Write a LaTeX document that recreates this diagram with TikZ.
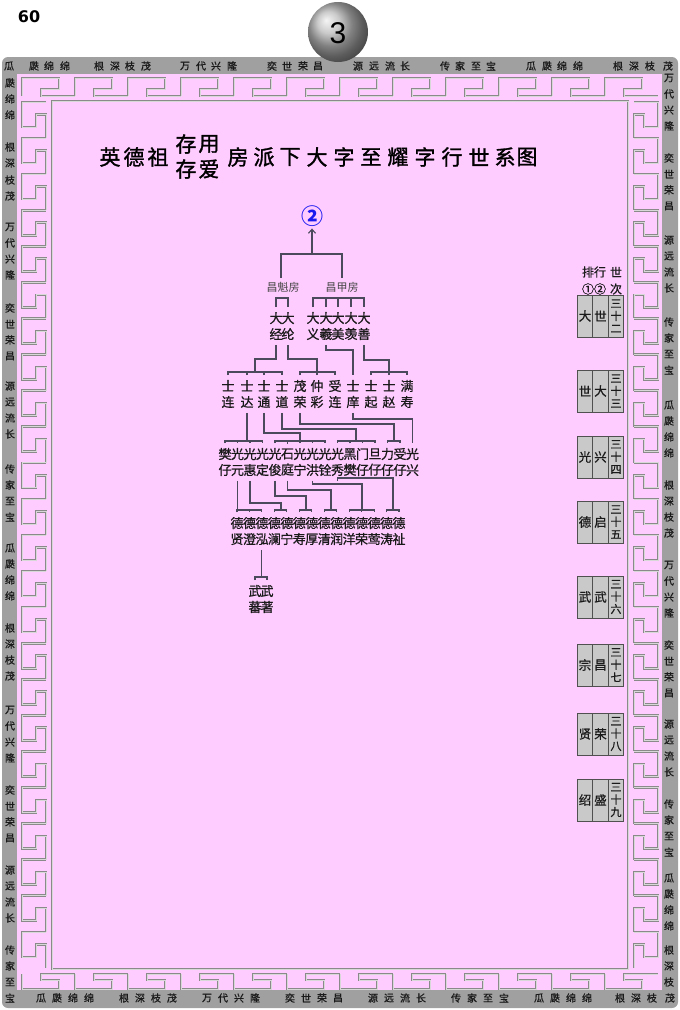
\documentclass[tikz,border=0pt]{standalone}
\usepackage{fontspec}
\newfontfamily\cjk{Noto Sans CJK SC}
\newfontfamily\cjkb[FakeBold=0.8]{Noto Sans CJK SC}
\newfontfamily\cjkt[FakeBold=1.4]{Noto Sans CJK SC}
\newfontfamily\numfont{DejaVu Sans}
\newfontfamily\ballfont{Liberation Sans}
\usetikzlibrary{arrows.meta}
\definecolor{pinkbg}{HTML}{FFCCFF}
\definecolor{bandgray}{HTML}{A0A0A0}
\definecolor{fretline}{HTML}{8A8A8A}
\definecolor{fretcore}{HTML}{D8D8D8}
\definecolor{lnc}{HTML}{4A4A5C}
\definecolor{txt}{HTML}{1A1A1A}
\definecolor{cellgray}{HTML}{C9C9C9}
\definecolor{celledge}{HTML}{505050}
\definecolor{circblue}{HTML}{1A1AF0}
\definecolor{bordtxt}{HTML}{1A1A1A}
\tikzset{
  fret/.style={draw=fretline, double=fretcore, double distance=0.7pt, line width=0.95pt},
  nm/.style={font=\cjkb\fontsize{13}{16}\selectfont, text=txt, inner xsep=0pt, inner ysep=0pt, outer ysep=5pt, align=center},
  conn/.style={draw=lnc, line width=1.1pt},
  fang/.style={font=\cjk\fontsize{11}{13}\selectfont, text=txt!80, inner sep=0pt, outer ysep=4pt},
  ttl/.style={font=\cjkt\fontsize{21}{21}\selectfont, text=black, inner sep=0pt},
  bt/.style={font=\cjkb\fontsize{10}{10}\selectfont, text=bordtxt, inner sep=0pt},
  cell/.style={draw=celledge, fill=cellgray, line width=0.8pt, minimum width=15.5pt, minimum height=42pt, inner sep=0pt, font=\cjkb\fontsize{12.5}{14}\selectfont, text=txt, align=center},
  cellc/.style={cell, font=\cjkb\fontsize{11}{12.5}\selectfont},
  hdr/.style={font=\cjkb\fontsize{12}{12}\selectfont, text=txt, inner sep=0pt},
}
\newcommand\brkt[3]{\draw[conn] (#1.north) -- (#1.north |- #3) -- (#2.north |- #3) -- (#2.north);}
\newcommand\legs[2]{\foreach \q in {#2} {\draw[conn] (\q.north) -- (\q.north |- #1);}}
\begin{document}
\begin{tikzpicture}[x=1pt,y=-1pt]
\useasboundingbox (0,0) rectangle (680,1010);
\fill[white] (0,0) rectangle (680,1010);
% frame
\fill[bandgray, rounded corners=6pt] (2,57) rectangle (678,1008);
\fill[pinkbg] (17,74) rectangle (662,990);
% badge and page number
\shade[ball color=gray!55] (338,32) circle (30);
\node[font=\ballfont\fontsize{30}{30}\selectfont] (badge) at (338,33) {3};
\node[font=\numfont\bfseries\fontsize{16}{16}\selectfont] (pageno) at (29,17) {60};
% meander bands
\foreach \i in {0,...,11} \draw[fret] ({22+53*\i},96) -- ++(0,-18) -- ++(37,0) -- ++(0,11) -- ++(-18,0) -- ++(0,7) -- ++(34,0);
\foreach \i in {0,...,11} \draw[fret] ({22+53*\i},974) -- ++(0,15) -- ++(37,0) -- ++(0,-9) -- ++(-18,0) -- ++(0,-6) -- ++(34,0);
\foreach \i in {0,...,23} \draw[fret] (46,{102+36.08*\i}) -- ++(-24,0) -- ++(0,25) -- ++(14,0) -- ++(0,-12.6) -- ++(10,0) -- ++(0,23.68);
\foreach \i in {0,...,23} \draw[fret] (634,{102+36.08*\i}) -- ++(24,0) -- ++(0,25) -- ++(-14,0) -- ++(0,-12.6) -- ++(-10,0) -- ++(0,23.68);
\draw[fret] (52,101) rectangle (628,969);
% border texts
\foreach \x/\c in {9/瓜,34/瓞,49/绵,65/绵,99/根,115/深,130/枝,146/茂,185/万,201/代,216/兴,232/隆,272/奕,287/世,303/荣,318/昌,358/源,374/远,390/流,405/长,445/传,460/家,476/至,491/宝,531/瓜,547/瓞,562/绵,578/绵,618/根,634/深,650/枝,668/茂}
  \node[bt] at (\x,66) {\c};
\foreach \y/\c in {83/瓞,99/绵,115/绵,147/根,163/深,180/枝,196/茂,227/万,243/代,259/兴,275/隆,308/奕,324/世,340/荣,356/昌,386/源,402/远,418/流,434/长,469/传,485/家,501/至,517/宝,548/瓜,564/瓞,580/绵,596/绵,628/根,644/深,660/枝,676/茂,710/万,726/代,742/兴,758/隆,790/奕,806/世,822/荣,838/昌,870/源,886/远,902/流,918/长,950/传,966/家,982/至,998/宝}
  \node[bt] at (10,\y) {\c};
\foreach \x/\c in {41/瓜,57/瓞,73/绵,89/绵,124/根,140/深,156/枝,172/茂,207/万,223/代,239/兴,255/隆,290/奕,306/世,322/荣,338/昌,373/源,389/远,405/流,421/长,456/传,472/家,488/至,504/宝,539/瓜,555/瓞,571/绵,587/绵,620/根,636/深,652/枝,670/茂}
  \node[bt] at (\x,998) {\c};
\foreach \y/\c in {78/万,94/代,110/兴,126/隆,158/奕,174/世,190/荣,206/昌,240/源,256/远,272/流,288/长,322/传,338/家,354/至,370/宝,405/瓜,421/瓞,437/绵,453/绵,485/根,501/深,517/枝,533/茂,565/万,581/代,597/兴,613/隆,645/奕,661/世,677/荣,693/昌,724/源,740/远,756/流,772/长,804/传,820/家,836/至,852/宝,878/瓜,894/瓞,910/绵,926/绵,950/根,966/深,982/枝}
  \node[bt] at (669,\y) {\c};
% title
\foreach \x/\c in {110/英,134/德,158/祖,238/房,264/派,290/下,317/大,344/字,371/至,398/耀,425/字,452/行,479/世,505/系,527/图}
  \node[ttl] at (\x,157) {\c};
\node[ttl] (t1) at (186,144) {存};
\node[ttl] (t2) at (209,144) {用};
\node[ttl] (t3) at (186,169) {存};
\node[ttl] (t4) at (209,169) {爱};
% right column
\node[hdr] (h1) at (594,272) {排行};
\node[hdr] (h2) at (616,272) {世};
\node[hdr] (h3) at (594,289) {①②};
\node[hdr] (h4) at (616,289) {次};
\foreach \yc/\a/\b/\c [count=\k] in {316/大/世/二,391/世/大/三,457/光/兴/四,522/德/启/五,597/武/武/六,665/宗/昌/七,734/贤/荣/八,800/绍/盛/九}{
  \node[cell] (ca\k) at (585,\yc) {\a};
  \node[cell] (cb\k) at (600.5,\yc) {\b};
  \node[cellc] (cc\k) at (616,\yc) {三\\十\\\c};
}
% tree
\node[font=\cjk\bfseries\fontsize{22}{22}\selectfont, text=circblue, inner sep=0pt, outer sep=2pt] (root) at (312,216) {②};
\coordinate (hub) at (312,254);
\coordinate (hl) at (281,254);
\coordinate (hr) at (342,254);
\node[fang] (f1) at (283,287) {昌魁房};
\node[fang] (f2) at (342,287) {昌甲房};
\draw[conn, -{Straight Barb[length=4pt,width=7pt]}] (hub) -- (root.south);
\draw[conn] (hl |- f1.north) -- (hl) -- (hr) -- (f2.north);
\coordinate (y2) at (0,298);
\coordinate (y3) at (0,372);
\coordinate (y4) at (0,441);
\coordinate (y5) at (0,510);
\coordinate (y6) at (0,577);
% level 2
\node[nm] (a1) at (276,326) {大\\经};
\node[nm] (a2) at (288,326) {大\\纶};
\foreach \p/\x [count=\i] in {义/313,羲/326,美/338,羡/351,善/364}
  \node[nm] (b\i) at (\x,326) {大\\\p};
\brkt{a1}{a2}{y2}
\brkt{b1}{b5}{y2}
\legs{y2}{b2,b3,b4}
% level 3
\foreach \p/\q/\x [count=\i] in {士/连/228,士/达/247,士/通/264,士/道/282,茂/荣/300,仲/彩/317,受/连/335,士/庠/353,士/起/371,士/赵/389,满/寿/407}
  \node[nm] (c\i) at (\x,394) {\p\\\q};
\brkt{c1}{c4}{y3}
\legs{y3}{c2,c3}
\brkt{c5}{c7}{y3}
\legs{y3}{c6}
\brkt{c9}{c11}{y3}
\legs{y3}{c10}
\coordinate (k31) at (255,359); \coordinate (s31) at (255,372);
\coordinate (k32) at (317,359); \coordinate (s32) at (317,372);
\coordinate (k33) at (353,350);
\coordinate (k34) at (389,360); \coordinate (s34) at (389,372);
\draw[conn] (a1.south) |- (k31) -- (s31);
\draw[conn] (a2.south) |- (k32) -- (s32);
\draw[conn] (b2.south) |- (k33) -- (c8.north);
\draw[conn] (b5.south) |- (k34) -- (s34);
% level 4
\foreach \p/\q [count=\i] in {樊/仔,光/元,光/惠,光/定,光/俊,石/庭,光/宁,光/洪,光/铨,光/秀,黑/樊,门/仔,旦/仔,力/仔,受/仔,光/兴}
  \node[nm] (d\i) at ({212.5+12.5*\i},462) {\p\\\q};
\brkt{d1}{d4}{y4}
\legs{y4}{d2,d3}
\brkt{d5}{d9}{y4}
\legs{y4}{d6,d7,d8}
\brkt{d10}{d13}{y4}
\legs{y4}{d11,d12}
\brkt{d14}{d15}{y4}
\coordinate (s41) at (247,441);
\coordinate (k42) at (264,433); \coordinate (s42) at (300,441);
\coordinate (k43) at (282,429); \coordinate (s43) at (356,441);
\coordinate (k44) at (300,424); \coordinate (s44) at (394,441);
\coordinate (k45) at (412.5,419);
\draw[conn] (c2.south) -- (s41);
\draw[conn] (c3.south) |- (k42) -| (s42);
\draw[conn] (c4.south) |- (k43) -| (s43);
\draw[conn] (c5.south) |- (k44) -| (s44);
\draw[conn] (c8.south) |- (k45) -- (d16.north);
% level 5
\foreach \q [count=\i] in {贤,澄,泓,澜,宁,寿,厚,清,润,洋,荣,莺,涛,祉}
  \node[nm] (e\i) at ({224.54+12.46*\i},531) {德\\\q};
\brkt{e1}{e3}{y5}
\legs{y5}{e2}
\brkt{e4}{e5}{y5}
\brkt{e6}{e7}{y5}
\brkt{e8}{e9}{y5}
\brkt{e10}{e12}{y5}
\legs{y5}{e11}
\brkt{e13}{e14}{y5}
\coordinate (k52) at (250,503); \coordinate (s52) at (281,510);
\coordinate (k53) at (275,496); \coordinate (s53) at (306,510);
\coordinate (k54) at (287.5,490); \coordinate (s54) at (331,510);
\coordinate (k55) at (312.5,484); \coordinate (s55) at (362,510);
\coordinate (k56) at (337.5,478); \coordinate (s56) at (393,510);
\draw[conn] (d2.south) -- (d2.south |- y5);
\draw[conn] (d3.south) |- (k52) -| (s52);
\draw[conn] (d5.south) |- (k53) -| (s53);
\draw[conn] (d6.south) |- (k54) -| (s54);
\draw[conn] (d8.south) |- (k55) -| (s55);
\draw[conn] (d10.south) |- (k56) -| (s56);
% level 6
\node[nm] (g1) at (255,599) {武\\蕃};
\node[nm] (g2) at (267,599) {武\\著};
\brkt{g1}{g2}{y6}
\draw[conn] (e3.south) -- (e3.south |- y6);
\end{tikzpicture}
\end{document}
